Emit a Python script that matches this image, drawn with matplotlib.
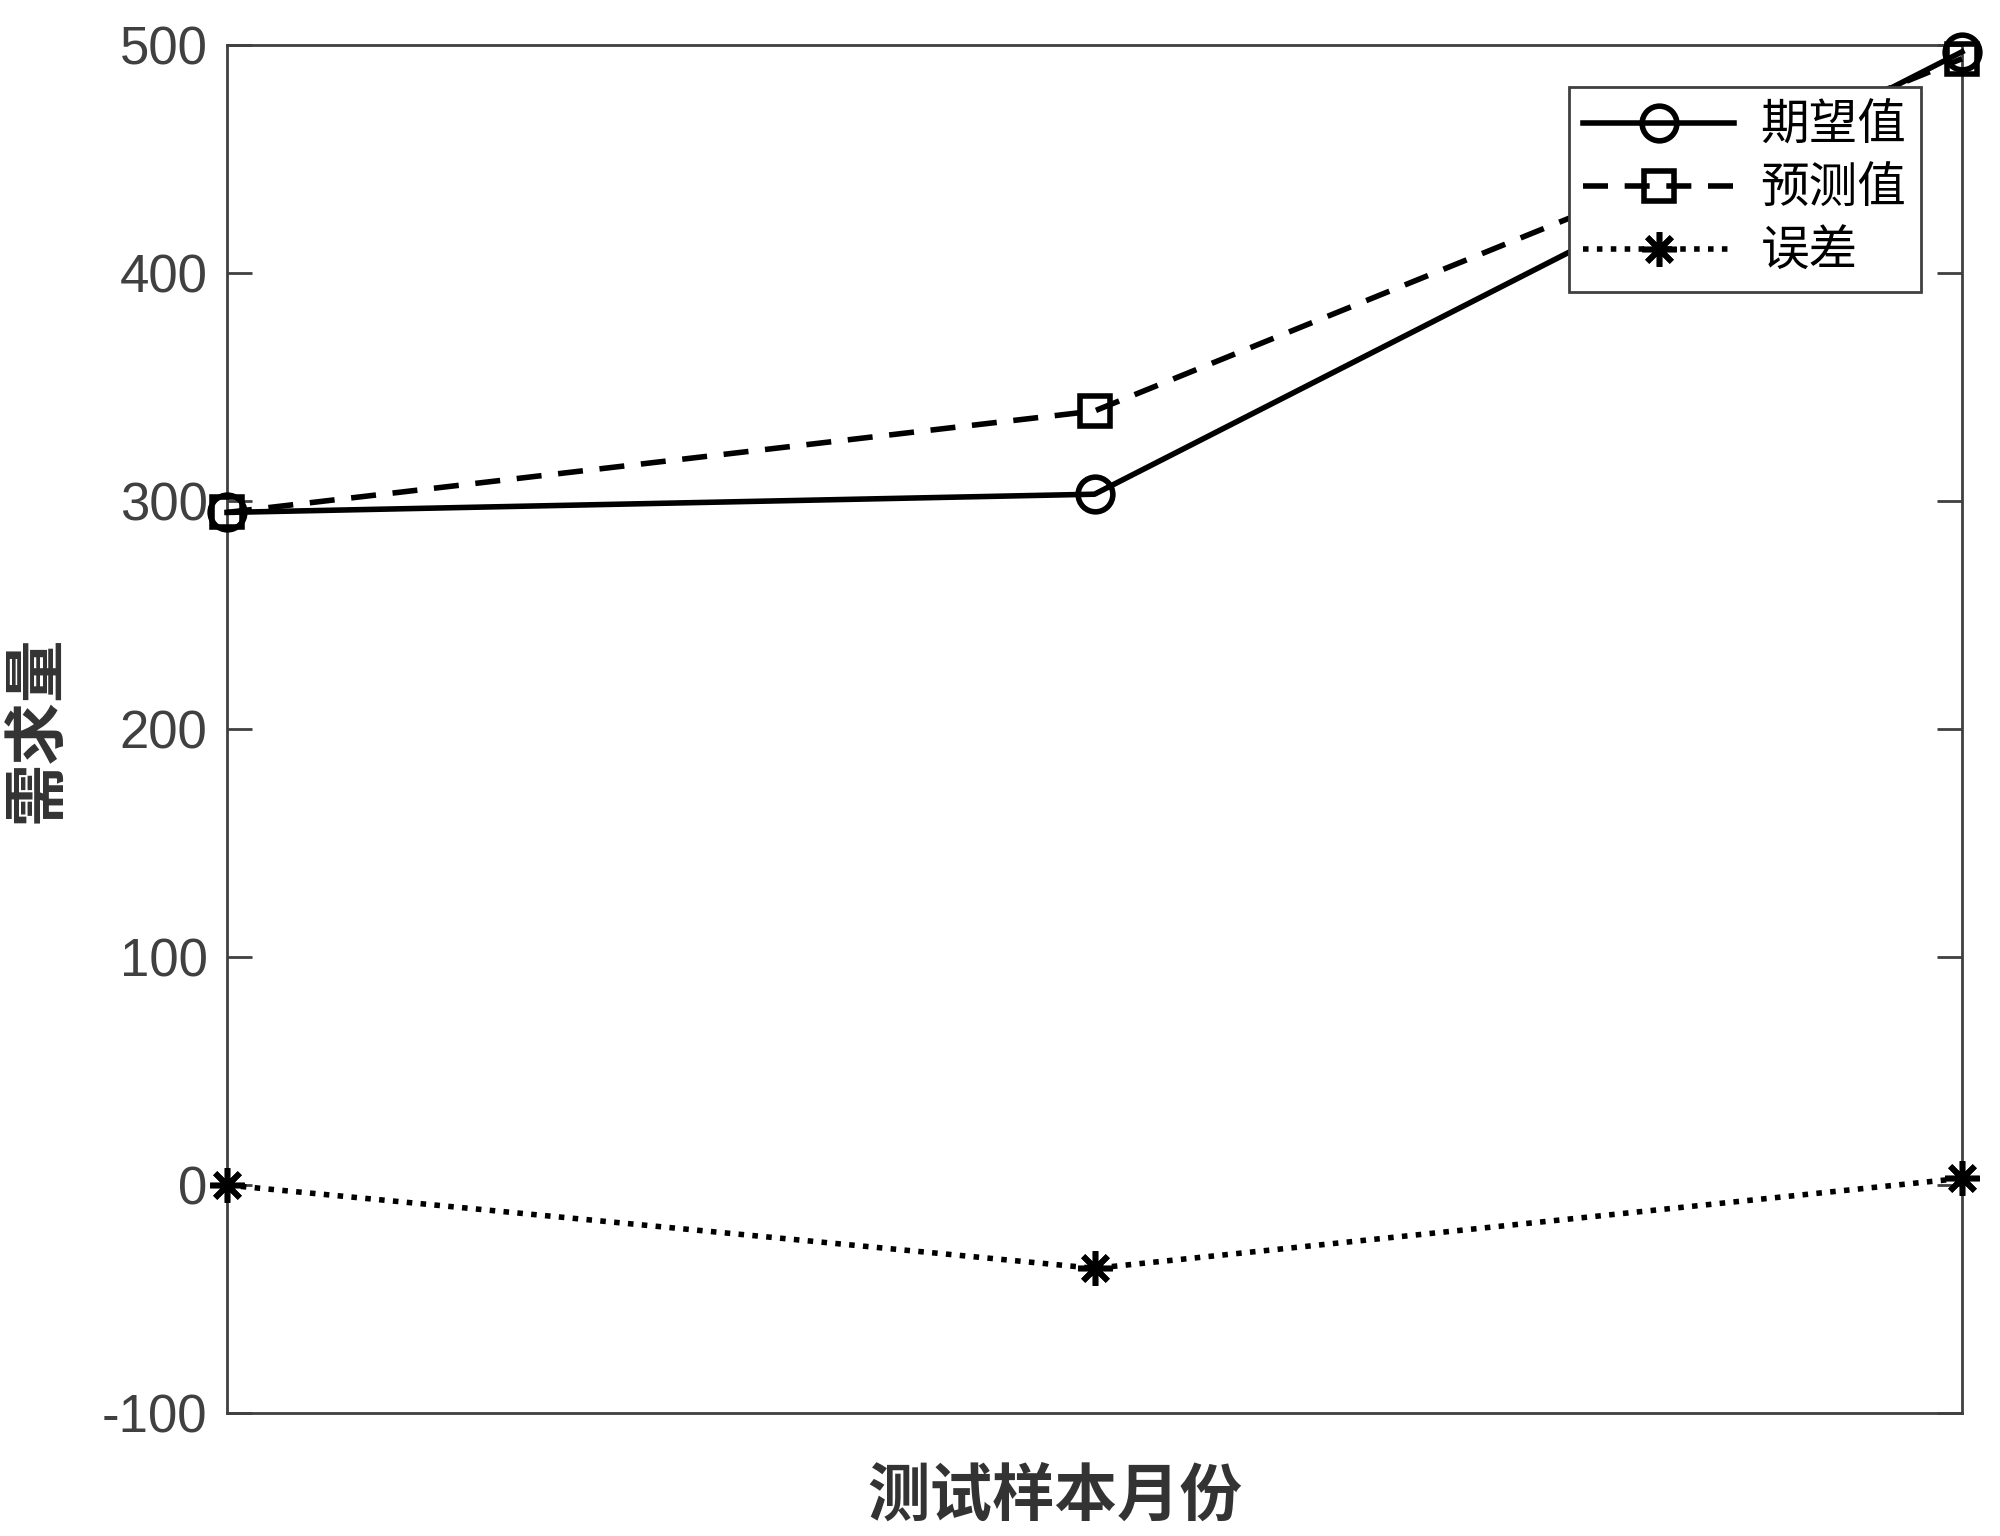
import matplotlib
matplotlib.use('Agg')
import matplotlib.pyplot as plt

plt.rcParams['font.family'] = ['Noto Sans CJK SC', 'DejaVu Sans']
plt.rcParams['axes.unicode_minus'] = False

# Data.
months = [1, 2, 3]
expected = [295, 303, 497]
predicted = [295, 339.5, 494]
error = [0, -36.5, 3]
labels = ['期望值', '预测值', '误差']

fig = plt.figure(figsize=(20, 15.36), dpi=100)
ax = fig.add_axes([0.1135, 0.080, 0.8675, 0.8907])

ax.plot(months, expected, color='black', linestyle='-', linewidth=4,
        marker='o', markersize=25, markerfacecolor='none', markeredgewidth=4,
        label=labels[0], clip_on=False, zorder=5)
ax.plot(months, predicted, color='black', linestyle=(0, (4.5, 3)), linewidth=4,
        marker='s', markersize=21, markerfacecolor='none', markeredgewidth=4,
        label=labels[1], clip_on=False, zorder=5)
ax.plot(months, error, color='black', linestyle=(0, (1, 1.5)), linewidth=4,
        marker=(8, 2, 0), markersize=25, markeredgewidth=4,
        label=labels[2], clip_on=False, zorder=5)

ax.set_xlim(1, 3)
ax.set_ylim(-100, 500)
ax.set_xticks([])
ax.set_yticks([-100, 0, 100, 200, 300, 400, 500])

gray = '#404040'
for sp in ax.spines.values():
    sp.set_color(gray)
    sp.set_linewidth(2)
ax.tick_params(axis='y', direction='in', length=18, width=2, colors=gray,
               labelsize=38, right=True, pad=14)
for lab in ax.get_yticklabels():
    lab.set_fontfamily(['Liberation Sans', 'DejaVu Sans'])

ax.set_xlabel('测试样本月份', fontsize=45, fontweight='bold', color='#333333')
ax.xaxis.set_label_coords(0.477, -0.038, transform=ax.transAxes)
ax.xaxis.label.set_va('top')
ax.set_ylabel('需求量', fontsize=45, fontweight='bold', color='#333333', labelpad=24)

leg = ax.legend(loc='upper right', bbox_to_anchor=(0.9764, 0.9693), borderaxespad=0,
                fontsize=35, handlelength=3.1, frameon=True, fancybox=False,
                labelspacing=0.28, borderpad=0.3, handletextpad=0.55)
leg.get_frame().set_edgecolor(gray)
leg.get_frame().set_linewidth(2)
leg.get_frame().set_alpha(1)

fig.savefig('out.png', dpi=100, facecolor='white')
